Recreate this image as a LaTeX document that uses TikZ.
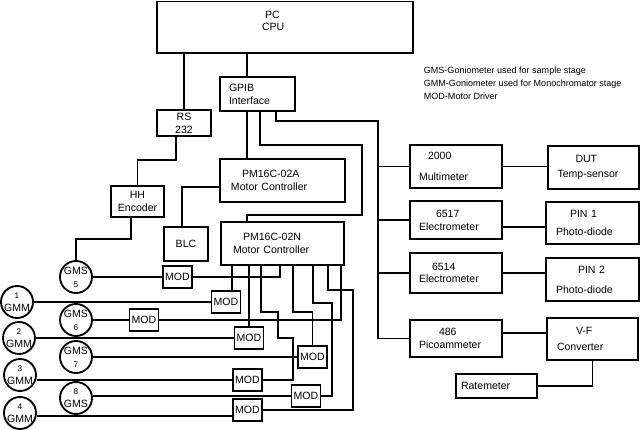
\documentclass[tikz,border=0pt]{standalone}
\usepackage{fontspec}
\setmainfont{Liberation Sans}
\usepackage{tikz}
\usetikzlibrary{calc}

\newcommand{\mnum}[1]{{\fontsize{7}{8}\selectfont #1}}

\begin{document}
\begin{tikzpicture}[
  x=0.03cm, y=-0.03cm,
  line width=1.6pt,
  font=\fontsize{9}{11}\selectfont,
  box/.style={rectangle, draw=black, inner sep=0pt},
  inst/.style={box, minimum width=2.76cm, text width=2.22cm, align=left},
  sensor/.style={box, minimum width=2.76cm, text width=2.16cm, align=left},
  modbox/.style={box, minimum width=0.87cm, minimum height=0.66cm},
  motor/.style={circle, draw=black, minimum size=0.96cm, inner sep=0pt, align=center}
]
\path[use as bounding box, fill=white] (0,0) rectangle (640,430);

% computer side
\node (pc) [box, minimum width=7.68cm, minimum height=1.545cm, text width=1.38cm, align=left] at (285,27.25) {\hspace*{0.09cm}PC\\CPU\\\mbox{}};
\node (rs) [box, minimum width=1.62cm, minimum height=0.78cm, align=center] at (184,123) {RS\\232};
\node (gpib) [box, minimum width=2.25cm, minimum height=1.02cm, text width=1.71cm, align=left] at (257.5,94) {GPIB\\Interface};
\node (pma) [box, minimum width=3.75cm, minimum height=1.29cm, text width=3.09cm, align=left] at (282.5,180.5) {\hspace*{0.33cm}PM16C-02A\\Motor Controller};
\node (pmn) [box, minimum width=3.69cm, minimum height=1.29cm, text width=2.97cm, align=left] at (282.5,243.5) {\hspace*{0.3cm}PM16C-02N\\Motor Controller};
\node (hh) [box, minimum width=1.59cm, minimum height=0.93cm, align=center] at (137.5,201.5) {HH\\Encoder};
\node (blc) [box, minimum width=1.32cm, minimum height=1.02cm] at (186,244) {BLC};

% instruments
\node (mult) [inst, minimum height=1.29cm] at (456,166.5) {\hspace*{0.27cm}2000\\[7pt]Multimeter};
\node (e6517) [inst, minimum height=1.14cm] at (456,220) {\hspace*{0.51cm}6517\\Electrometer};
\node (e6514) [inst, minimum height=1.2cm] at (456,273) {\hspace*{0.39cm}6514\\[-1pt]Electrometer};
\node (pico) [inst, minimum height=1.11cm] at (456,338.5) {\hspace*{0.6cm}486\\Picoammeter};
\node (dut) [sensor, minimum width=2.73cm, minimum height=1.29cm] at (593.5,167.5) {\hspace*{0.54cm}DUT\\[2pt]Temp-sensor};
\node (pin1) [sensor, minimum width=2.79cm, minimum height=1.26cm, text width=2.19cm] at (592.5,223) {\hspace*{0.42cm}PIN 1\\[5pt]Photo-diode};
\node (pin2) [sensor, minimum width=2.79cm, minimum height=1.29cm, text width=2.19cm] at (592.5,279.5) {\hspace*{0.66cm}PIN 2\\[6pt]Photo-diode};
\node (vf) [sensor, minimum width=2.73cm, minimum height=1.26cm, text width=2.13cm] at (592.5,339) {\hspace*{0.57cm}V-F\\[3pt]Converter};
\node (rate) [box, minimum width=2.43cm, minimum height=0.72cm, text width=2.13cm, align=left] at (496.5,386) {Ratemeter};

\node (legend) [anchor=north west, align=left, inner sep=0pt, font=\fontsize{7.7}{11}\selectfont] at (423,66) {GMS-Goniometer used for sample stage\\GMM-Goniometer used for Monochromator stage\\MOD-Motor Driver};

% goniometers and drivers
\node (gms5) [motor] at (76,277) {GMS\\\mnum{5}};
\node (gmm1) [motor] at (17,302) {\mnum{1}\\GMM};
\node (gms6) [motor] at (76,320) {GMS\\\mnum{6}};
\node (gmm2) [motor] at (19,338) {\mnum{2}\\GMM};
\node (gms7) [motor] at (76,357) {GMS\\\mnum{7}};
\node (gmm3) [motor] at (20,375) {\mnum{3}\\GMM};
\node (gms8) [motor] at (76,398) {\mnum{8}\\GMS};
\node (gmm4) [motor] at (20,413) {\mnum{4}\\GMM};

\node (moda) [modbox] at (177.5,277) {MOD};
\node (modb) [modbox] at (226,302) {MOD};
\node (modc) [modbox] at (144,320) {MOD};
\node (modd) [modbox] at (249,338) {MOD};
\node (mode) [modbox] at (312.5,357) {MOD};
\node (modh) [modbox] at (247.5,380) {MOD};
\node (modf) [modbox] at (306,396) {MOD};
\node (modg) [modbox] at (247.5,410) {MOD};

\coordinate (trunk) at (247,0);
\coordinate (bus) at (378,121);

% wiring
\draw (pc.south -| rs.north) -- (rs.north);
\draw (pc.south -| trunk) -- (gpib.north -| trunk);
\draw (gpib.south -| trunk) -- (pma.north -| trunk);
\draw ($(gpib.south west)+(41,0)$) |- (362,145) -- (362,215) -| (pmn.north -| trunk);
\draw ($(gpib.south west)+(57,0)$) |- (bus) |- (pico.west);
\draw (mult.west) -- (mult.west -| bus);
\draw (e6517.west) -- (e6517.west -| bus);
\draw (e6514.west) -- (e6514.west -| bus);
\draw (mult.east) -- (mult.east -| dut.west);
\draw ([yshift=-0.21cm]e6517.east) -- ([yshift=-0.21cm]e6517.east -| pin1.west);
\draw (e6514.east) -- (e6514.east -| pin2.west);
\draw ([yshift=0.16cm]pico.east) -- ([yshift=0.16cm]pico.east -| vf.west);
\draw (vf.south) |- (rate.east);

\draw ([xshift=-0.24cm]rs.south) -- ++(0,23) -| (hh.north);
\draw ([xshift=-0.2cm]hh.south) -- ++(0,21) -| (gms5.north);
\draw ([yshift=-0.2cm]pma.west) -| ([xshift=-0.12cm]blc.north);

\draw (gms5) -- (moda);
\draw (moda.east) -| ($(pmn.south)+(-2.5,0)$);
\draw (gmm1) -- (modb);
\draw ([xshift=0.18cm]modb.north) -- ([xshift=0.18cm]modb.north |- pmn.south);
\draw (gms6) -- (modc);
\draw (modc.east) -| ($(pmn.south)+(58.5,0)$);
\draw (gmm2) -- (modd);
\draw (modd.north) -- (modd.north |- pmn.south);
\draw (gms7) -- (mode);
\draw (mode.north) -- ++(0,-33) -| ($(pmn.south)+(10.5,0)$);
\draw (modh.west) -- (modh.west -| gmm3.east);
\draw (modh.east) -| (293,338) -| (278,312) -| ($(pmn.south)+(-21.5,0)$);
\draw (modf.west) -- (modf.west -| gms8.east);
\draw (modf.east) -| (332,303) -| ($(pmn.south)+(30.5,0)$);
\draw ([yshift=-0.18cm]modg.west) -- ([yshift=-0.18cm]modg.west -| gmm4.east);
\draw (modg.east) -| (353,290) -| ($(pmn.south)+(45.5,0)$);
\end{tikzpicture}
\end{document}
